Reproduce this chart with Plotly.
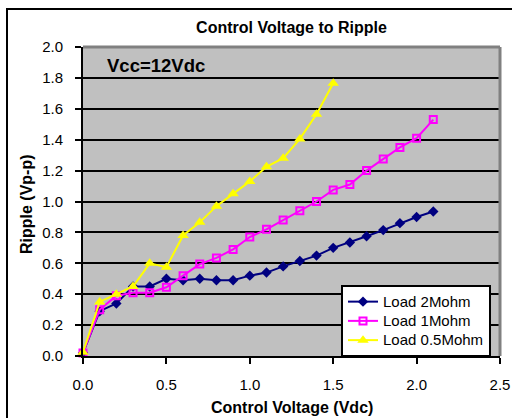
import plotly.graph_objects as go

x_full = [0.0, 0.1, 0.2, 0.3, 0.4, 0.5, 0.6, 0.7, 0.8, 0.9, 1.0,
          1.1, 1.2, 1.3, 1.4, 1.5, 1.6, 1.7, 1.8, 1.9, 2.0, 2.1]
x_half = [0.0, 0.1, 0.2, 0.3, 0.4, 0.5, 0.6, 0.7, 0.8, 0.9, 1.0,
          1.1, 1.2, 1.3, 1.4, 1.5]

load_2m = [0.02, 0.29, 0.34, 0.45, 0.45, 0.50, 0.49, 0.50, 0.49, 0.49, 0.52,
           0.54, 0.58, 0.615, 0.65, 0.70, 0.735, 0.775, 0.815, 0.86, 0.90, 0.935]
load_1m = [0.02, 0.30, 0.39, 0.41, 0.41, 0.445, 0.52, 0.595, 0.635, 0.69, 0.77,
           0.82, 0.88, 0.94, 1.00, 1.075, 1.11, 1.20, 1.275, 1.35, 1.41, 1.53]
load_05m = [0.025, 0.35, 0.40, 0.45, 0.60, 0.575, 0.78, 0.865, 0.97, 1.05, 1.13,
            1.225, 1.28, 1.405, 1.565, 1.765]

series_names = ["Load 2Mohm", "Load 1Mohm", "Load 0.5Mohm"]
title_text = "Control Voltage to Ripple"
x_title = "Control Voltage (Vdc)"
y_title = "Ripple (Vp-p)"
note_text = "Vcc=12Vdc"

FONT = "Liberation Sans, Arial, sans-serif"

# plot area in screen pixels: x 83..500, y 47..356
L, R, T, B = 83, 500, 47, 356
PW, PH = R - L, B - T

def px(xp):
    return (xp - L) / PW

def py(yp):
    return (B - yp) / PH

def legend_name(s):
    return "<span style='font-size:15px'>" + s + "</span>"

fig = go.Figure()
fig.add_trace(go.Scatter(x=x_full, y=load_2m, name=legend_name(series_names[0]), mode="lines+markers",
                         line=dict(color="#000080", width=2),
                         marker=dict(symbol="diamond", size=8, color="#000080"),
                         cliponaxis=False))
fig.add_trace(go.Scatter(x=x_full, y=load_1m, name=legend_name(series_names[1]), mode="lines+markers",
                         line=dict(color="#FF00FF", width=2),
                         marker=dict(symbol="square-open", size=7, color="#FF00FF",
                                     line=dict(width=2, color="#FF00FF")),
                         cliponaxis=False))
fig.add_trace(go.Scatter(x=x_half, y=load_05m, name=legend_name(series_names[2]), mode="lines+markers",
                         line=dict(color="#FFFF00", width=2),
                         marker=dict(symbol="triangle-up", size=10, color="#FFFF00"),
                         cliponaxis=False))

fig.update_layout(
    width=512, height=418,
    margin=dict(l=L, r=512 - R, t=T, b=418 - B, autoexpand=False),
    paper_bgcolor="white",
    plot_bgcolor="#C0C0C0",
    font=dict(family=FONT, size=15, color="black"),
    title=dict(text="<b>" + title_text + "</b>", x=0.5, xref="paper", xanchor="center",
               y=1 - 27 / 418, yref="container", yanchor="middle",
               font=dict(size=16, family=FONT, color="black")),
    showlegend=True,
    legend=dict(x=px(341), y=py(285), xanchor="left", yanchor="top",
                bgcolor="white", bordercolor="black", borderwidth=2,
                font=dict(size=12.5, family=FONT, color="black"),
                tracegroupgap=0, itemwidth=30),
)

fig.update_xaxes(range=[0, 2.5], dtick=0.5, tick0=0, tickformat=".1f",
                 showgrid=False, zeroline=False, automargin=False,
                 showline=True, linecolor="black", linewidth=2,
                 ticks="outside", ticklen=6, tickwidth=2, tickcolor="black",
                 ticklabelstandoff=8,
                 tickfont=dict(size=15, family=FONT))
fig.update_yaxes(range=[0, 2.0], dtick=0.2, tick0=0, tickformat=".1f",
                 showgrid=True, gridcolor="black", gridwidth=2,
                 zeroline=False, automargin=False,
                 showline=True, linecolor="black", linewidth=2,
                 ticks="outside", ticklen=6, tickwidth=2, tickcolor="black",
                 ticklabelstandoff=9,
                 tickfont=dict(size=15, family=FONT))

# grey plot-area border on top and right
fig.add_shape(type="line", xref="paper", yref="paper", x0=0, x1=1, y0=1, y1=1,
              line=dict(color="#808080", width=3))
fig.add_shape(type="line", xref="paper", yref="paper", x0=1, x1=1, y0=0, y1=1,
              line=dict(color="#808080", width=3))
# outer chart frame (extends beyond the visible window on right/bottom)
fig.add_shape(type="rect", xref="paper", yref="paper",
              x0=px(7), x1=px(540), y0=py(450), y1=py(9),
              line=dict(color="black", width=2), layer="above")

fig.add_annotation(text="<b>" + note_text + "</b>", xref="paper", yref="paper",
                   x=px(105), y=py(65), xanchor="left", yanchor="middle",
                   showarrow=False, font=dict(size=18.5, family=FONT, color="black"))
fig.add_annotation(text="<b>" + x_title + "</b>", xref="paper", yref="paper",
                   x=0.5, y=py(407), xanchor="center", yanchor="middle",
                   showarrow=False, font=dict(size=16, family=FONT, color="black"))
fig.add_annotation(text="<b>" + y_title + "</b>", xref="paper", yref="paper",
                   x=px(26), y=py(204), xanchor="center", yanchor="middle", textangle=-90,
                   showarrow=False, font=dict(size=16, family=FONT, color="black"))

fig.write_html("out.html", config={"displayModeBar": False},
               post_script="document.body.style.margin='0';document.body.style.overflow='hidden';")
